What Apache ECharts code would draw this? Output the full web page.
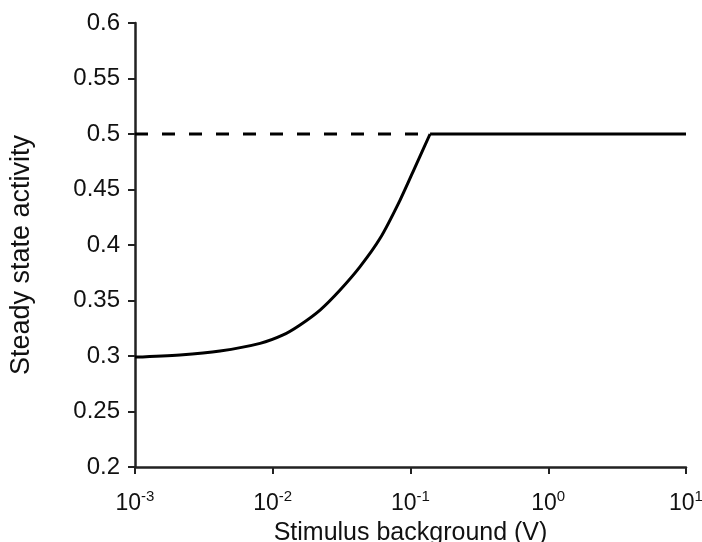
<!DOCTYPE html>
<html><head><meta charset="utf-8">
<script src="https://cdn.jsdelivr.net/npm/echarts@6/dist/echarts.min.js"></script>
<style>html,body{margin:0;padding:0;background:#fff}#c{width:702px;height:542px}</style>
</head><body><div id="c"></div>
<script>
const curveX = [0.001, 0.00212, 0.00414, 0.00809, 0.01189, 0.01578, 0.02205, 0.03083, 0.04306, 0.06016, 0.08401, 0.1111, 0.1387];
const curveY = [0.299, 0.301, 0.3045, 0.3114, 0.319, 0.328, 0.3414, 0.3595, 0.3805, 0.406, 0.4405, 0.4736, 0.5];
const flatX = [0.1387, 10];
const flatY = [0.5, 0.5];
const dashX = [0.001, 0.1387];
const dashY = [0.5, 0.5];

const font = 'Liberation Sans, Arial, Helvetica, sans-serif';
const chart = echarts.init(document.getElementById('c'));
const lineW = 3;
chart.setOption({
  animation: false,
  grid: {left: 135, right: 16, top: 23, bottom: 75, containLabel: false, outerBoundsMode: 'none'},
  xAxis: {
    type: 'log', logBase: 10, min: 0.001, max: 10,
    name: 'Stimulus background (V)', nameLocation: 'middle', nameGap: 52,
    nameTextStyle: {fontFamily: font, fontSize: 25, color: '#111'},
    axisLine: {lineStyle: {color: '#222', width: 2.5}},
    axisTick: {show: true, length: 7, lineStyle: {color: '#222', width: 2}},
    minorTick: {show: false},
    splitLine: {show: false},
    axisLabel: {
      margin: 22,
      formatter: function (v) { return '{b|10}{s|' + Math.round(Math.log10(v)) + '}'; },
      rich: {
        b: {fontFamily: font, fontSize: 23, color: '#111', verticalAlign: 'bottom', lineHeight: 26},
        s: {fontFamily: font, fontSize: 15, color: '#111', verticalAlign: 'top', lineHeight: 26, padding: [0, 0, 12, 0]}
      }
    }
  },
  yAxis: {
    type: 'value', min: 0.2, max: 0.6, interval: 0.05,
    name: 'Steady state activity', nameLocation: 'middle', nameGap: 100, nameRotate: 90,
    nameTextStyle: {fontFamily: font, fontSize: 27, color: '#111', padding: [0, 20, 0, 0]},
    axisLine: {show: true, lineStyle: {color: '#222', width: 2.5}},
    axisTick: {show: true, length: 7, lineStyle: {color: '#222', width: 2}},
    splitLine: {show: false},
    axisLabel: {margin: 15, fontFamily: font, fontSize: 24, color: '#111',
      formatter: function (v) { return String(+v.toFixed(2)); }}
  },
  series: [
    {type: 'line', data: curveX.map((x, i) => [x, curveY[i]]), smooth: 0.3, symbol: 'none',
     lineStyle: {color: '#000', width: lineW}},
    {type: 'line', data: flatX.map((x, i) => [x, flatY[i]]), symbol: 'none',
     lineStyle: {color: '#000', width: lineW}},
    {type: 'line', data: dashX.map((x, i) => [x, dashY[i]]), symbol: 'none',
     lineStyle: {color: '#000', width: lineW, type: [13, 14]}}
  ]
});
</script></body></html>
